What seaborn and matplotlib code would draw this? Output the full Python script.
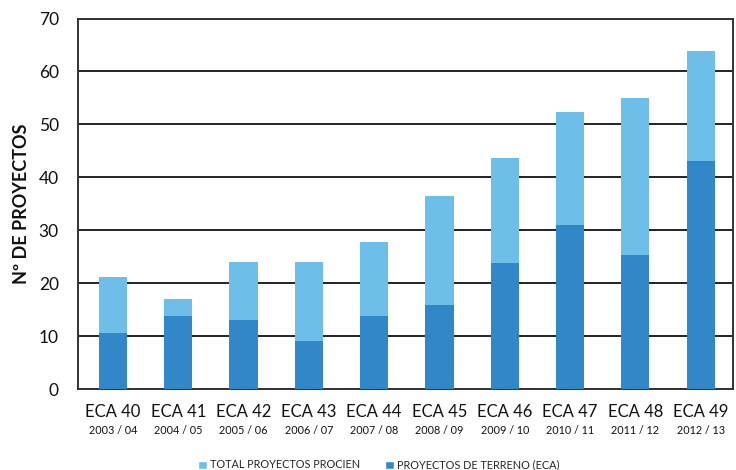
import matplotlib
matplotlib.use("Agg")
import matplotlib.pyplot as plt
import matplotlib.transforms as mtransforms
from matplotlib.patches import Patch
import seaborn as sns
import pandas as pd

categories = ["ECA 40", "ECA 41", "ECA 42", "ECA 43", "ECA 44",
              "ECA 45", "ECA 46", "ECA 47", "ECA 48", "ECA 49"]
years = ["2003 / 04", "2004 / 05", "2005 / 06", "2006 / 07", "2007 / 08",
         "2008 / 09", "2009 / 10", "2010 / 11", "2011 / 12", "2012 / 13"]
total_procien = [21.1, 17.0, 24.0, 24.0, 27.7, 36.4, 43.6, 52.4, 54.9, 63.8]
terreno_eca = [10.5, 13.7, 13.0, 9.0, 13.7, 15.8, 23.8, 30.9, 25.3, 43.0]

LIGHT = "#6dbfea"
DARK = "#3287c8"

sns.set_theme(style="white")
plt.rcParams['font.family'] = ['Lato', 'DejaVu Sans']

df = pd.DataFrame({"cat": categories, "total": total_procien, "eca": terreno_eca})

fig = plt.figure(figsize=(7.36, 4.70), dpi=100)
ax = fig.add_axes([78.3 / 736, 1 - 389 / 470, (732.7 - 78.3) / 736, (389 - 18.5) / 470])

sns.barplot(data=df, x="cat", y="total", color=LIGHT, width=0.43,
            saturation=1, linewidth=0, ax=ax, zorder=3)
sns.barplot(data=df, x="cat", y="eca", color=DARK, width=0.43,
            saturation=1, linewidth=0, ax=ax, zorder=4)

ax.set_ylim(0, 70)
ax.set_xlim(-0.53, 9.49)
ax.set_yticks(range(0, 71, 10))
ax.yaxis.grid(True, color="#222222", linewidth=1.4, zorder=1)
ax.set_axisbelow(True)
for s in ax.spines.values():
    s.set_color("#333333")
    s.set_linewidth(1.4)
ax.tick_params(axis="y", length=0, pad=14, labelsize=12.5, labelcolor="#111111")
ax.tick_params(axis="x", length=0, labelbottom=False)
ax.set_xlabel("")
ax.set_ylabel("Nº DE PROYECTOS", fontsize=13, fontweight="bold",
              color="#111111", labelpad=6)

trans = mtransforms.blended_transform_factory(ax.transData, fig.transFigure)
for i, (c, yv) in enumerate(zip(categories, years)):
    ax.text(i, 1 - 412 / 470, c, transform=trans, ha="center", va="center",
            fontsize=12, color="#111111")
    ax.text(i, 1 - 430 / 470, yv, transform=trans, ha="center", va="center",
            fontsize=7.8, color="#111111")

handles = [Patch(facecolor=LIGHT, label="TOTAL PROYECTOS PROCIEN"),
           Patch(facecolor=DARK, label="PROYECTOS DE TERRENO (ECA)")]
fig.legend(handles=handles, loc="center", bbox_to_anchor=(379 / 736, 1 - 465 / 470),
           ncol=2, frameon=False, fontsize=7.8, handlelength=0.8, handleheight=0.8,
           handletextpad=0.3, columnspacing=2.3, borderpad=0, borderaxespad=0)

fig.savefig("out.png", dpi=100)
